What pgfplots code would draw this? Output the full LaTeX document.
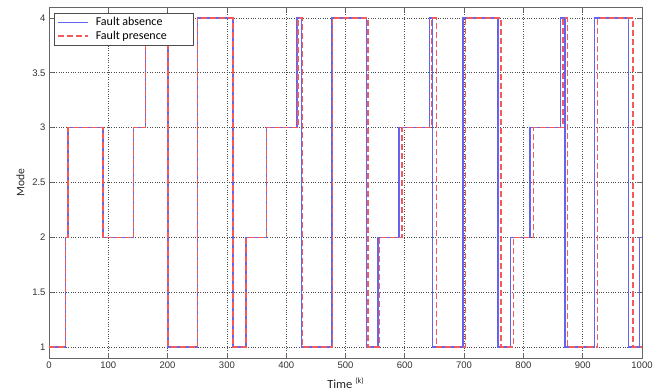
\documentclass[border=0pt]{standalone}
\usepackage{fontspec}
\setmainfont{Carlito}
\newfontfamily\tickfont{Liberation Sans}
\usepackage{pgfplots}
\pgfplotsset{compat=1.18}
\definecolor{bl}{RGB}{100,100,238}
\definecolor{rd}{RGB}{245,90,90}
\begin{document}
\begin{tikzpicture}
\begin{axis}[
  width=593pt, height=351pt, scale only axis,
  xmin=0, xmax=1000, ymin=0.9, ymax=4.1,
  xtick={0,100,...,1000}, ytick={1,1.5,2,2.5,3,3.5,4},
  /pgf/number format/1000 sep={},
  /pgf/number format/assume math mode=true,
  grid=major,
  major grid style={dotted, black!70, line width=0.7pt},
  axis line style={black!60, line width=0.8pt},
  tick style={black!60, line width=0.7pt},
  major tick length=5pt,
  tick label style={font=\tickfont\fontsize{9.5}{10}\selectfont, text=black!80},
  xlabel={Time \raisebox{0.8ex}{\fontsize{8}{9}\selectfont (k)}},
  ylabel={Mode},
  xlabel style={font=\fontsize{12.5}{13}\selectfont, text=black!85, yshift=-3pt},
  ylabel style={font=\fontsize{11.5}{12}\selectfont, text=black!85, yshift=1pt},
  legend style={at={(0.0084,0.983)}, anchor=north west,
    font=\fontsize{12}{14}\selectfont, draw=black!70, line width=0.8pt,
    inner xsep=3pt, inner ysep=2pt, row sep=0pt, column sep=5pt},
  legend cell align=left,
  legend image code/.code={\draw[#1] (0pt,0pt) -- (30pt,0pt);},
]
\addplot[const plot, color=bl, line width=1.4pt] coordinates {
(0,1) (28,2) (32,3) (91,2) (142,3) (163,4) (201,1) (250,4) (310,1) (332,2)
(367,3) (418,4) (426,1) (477,4) (535,1) (555,2) (590,3) (642,4) (647,1)
(698,4) (757,1) (778,2) (811,3) (863,4) (870,1) (920,4) (977,1) (996,2) (1000,2)
};
\addlegendentry{Fault absence\rule{22pt}{0pt}}
\addplot[const plot, color=rd, line width=1.4pt, dash pattern=on 6pt off 3pt] coordinates {
(0,1) (28,2) (32,3) (91,2) (142,3) (163,4) (201,1) (250,4) (310,1) (332,2)
(367,3) (420,4) (427,1) (478,4) (538,1) (557,2) (595,3) (645,4) (653,1)
(702,4) (762,1) (783,2) (817,3) (867,4) (874,1) (925,4) (985,1) (1000,1)
};
\addlegendentry{Fault presence\rule{22pt}{0pt}}
\end{axis}
\pgfresetboundingbox
\path[use as bounding box] ([xshift=-49pt,yshift=-34pt]current axis.south west) rectangle ([xshift=18pt,yshift=7pt]current axis.north east);
\end{tikzpicture}
\end{document}
